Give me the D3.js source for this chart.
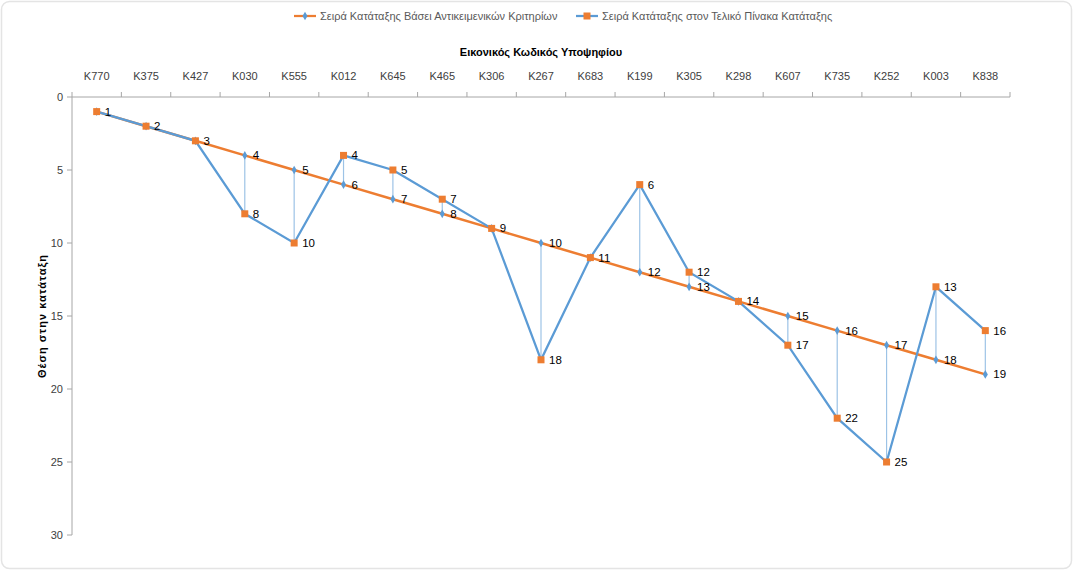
<!DOCTYPE html>
<html><head><meta charset="utf-8">
<script src="https://cdn.jsdelivr.net/npm/d3@7"></script>
<style>body{margin:0;background:#fff;}svg{display:block;font-family:"Liberation Sans",Arial,sans-serif;}</style>
</head><body>
<svg id="c" width="1073" height="570"></svg>
<script>
const categories = ["K770","K375","K427","K030","K555","K012","K645","K465","K306","K267","K683","K199","K305","K298","K607","K735","K252","K003","K838"];
const objectiveRank = [1,2,3,4,5,6,7,8,9,10,11,12,13,14,15,16,17,18,19];
const finalRank = [1,2,3,8,10,4,5,7,9,18,11,6,12,14,17,22,25,13,16];
const yTicks = [0,5,10,15,20,25,30];
const seriesNames = ["Σειρά Κατάταξης  Βάσει Αντικειμενικών Κριτηρίων","Σειρά Κατάταξης  στον Τελικό Πίνακα Κατάταξης"];
const orange = "#ED7D31", blue = "#5B9BD5", drop = "#9DC3E6";

const svg = d3.select("#c");
svg.append("rect").attr("x",1.5).attr("y",1.5).attr("width",1070).attr("height",567).attr("rx",8)
  .attr("fill","#fff").attr("stroke","#e4e4e4").attr("stroke-width",1.5);

const x = d3.scaleBand().domain(categories).range([72,1010]);
const y = d3.scaleLinear().domain([0,30]).range([97,535]);
const cx = d => x(d) + x.bandwidth()/2;

// X axis (top)
const xg = svg.append("g").attr("transform","translate(0,97)");
xg.append("line").attr("x1",72).attr("x2",1010).attr("stroke","#a6a6a6").attr("stroke-width",1);
xg.selectAll("line.t").data(d3.range(20)).join("line").attr("class","t")
  .attr("x1",i=>72+i*x.step()).attr("x2",i=>72+i*x.step()).attr("y1",0).attr("y2",-5)
  .attr("stroke","#a6a6a6");
xg.selectAll("text").data(categories).join("text")
  .attr("x",cx).attr("y",-17).attr("text-anchor","middle").attr("font-size",11).attr("fill","#404040").text(d=>d);
svg.append("text").attr("x",541).attr("y",56).attr("text-anchor","middle").attr("font-size",11)
  .attr("font-weight","bold").attr("fill","#000").text("Εικονικός Κωδικός Υποψηφίου");

// Y axis
const yg = svg.append("g");
yg.append("line").attr("x1",72).attr("x2",72).attr("y1",97).attr("y2",535).attr("stroke","#a6a6a6");
yg.selectAll("line.t").data(yTicks).join("line").attr("class","t")
  .attr("x1",67).attr("x2",72).attr("y1",d=>y(d)).attr("y2",d=>y(d)).attr("stroke","#a6a6a6");
yg.selectAll("text").data(yTicks).join("text")
  .attr("x",63).attr("y",d=>y(d)+4).attr("text-anchor","end").attr("font-size",11).attr("fill","#404040").text(d=>d);
svg.append("text").attr("transform","translate(46,316) rotate(-90)").attr("text-anchor","middle")
  .attr("font-size",11).attr("font-weight","bold").attr("letter-spacing",1).attr("fill","#000").text("Θέση στην κατάταξη");

// drop lines
svg.append("g").selectAll("line").data(categories).join("line")
  .attr("x1",d=>cx(d)).attr("x2",d=>cx(d))
  .attr("y1",(d,i)=>y(objectiveRank[i])).attr("y2",(d,i)=>y(finalRank[i]))
  .attr("stroke",drop).attr("stroke-width",1.2);

const line = d3.line().x(d=>cx(d[0])).y(d=>y(d[1]));
const s1 = categories.map((c,i)=>[c,objectiveRank[i]]);
const s2 = categories.map((c,i)=>[c,finalRank[i]]);
svg.append("path").attr("d",line(s1)).attr("fill","none").attr("stroke",orange).attr("stroke-width",2.5);
svg.append("path").attr("d",line(s2)).attr("fill","none").attr("stroke",blue).attr("stroke-width",2.25);

// markers series1: blue diamonds
svg.append("g").selectAll("path").data(s1).join("path")
  .attr("transform",d=>`translate(${cx(d[0])},${y(d[1])})`)
  .attr("d",d3.symbol(d3.symbolDiamond,22)).attr("fill",blue);
// markers series2: orange squares
svg.append("g").selectAll("rect").data(s2).join("rect")
  .attr("x",d=>cx(d[0])-3.5).attr("y",d=>y(d[1])-3.5).attr("width",7).attr("height",7).attr("fill",orange);

// labels
const lab = svg.append("g").attr("font-size",11.5).attr("fill","#000");
lab.selectAll("text.a").data(s1.filter((d,i)=>d[1]!==finalRank[i])).join("text").attr("class","a")
  .attr("x",d=>cx(d[0])+8).attr("y",d=>y(d[1])+4).text(d=>d[1]);
lab.selectAll("text.b").data(s2).join("text").attr("class","b")
  .attr("x",d=>cx(d[0])+8).attr("y",d=>y(d[1])+4).text(d=>d[1]);

// legend
const leg = svg.append("g").attr("font-size",11).attr("fill","#595959");
const L = [{x:294,c1:orange,c2:blue,sym:"d",name:seriesNames[0]},{x:576,c1:blue,c2:orange,sym:"s",name:seriesNames[1]}];
L.forEach(l=>{
  leg.append("line").attr("x1",l.x).attr("x2",l.x+22).attr("y1",16).attr("y2",16).attr("stroke",l.c1).attr("stroke-width",2.25);
  if(l.sym==="d") leg.append("path").attr("transform",`translate(${l.x+11},16)`).attr("d",d3.symbol(d3.symbolDiamond,22)).attr("fill",l.c2);
  else leg.append("rect").attr("x",l.x+7.5).attr("y",12.5).attr("width",7).attr("height",7).attr("fill",l.c2);
  leg.append("text").attr("x",l.x+26).attr("y",20).text(l.name);
});
</script>
</body></html>
